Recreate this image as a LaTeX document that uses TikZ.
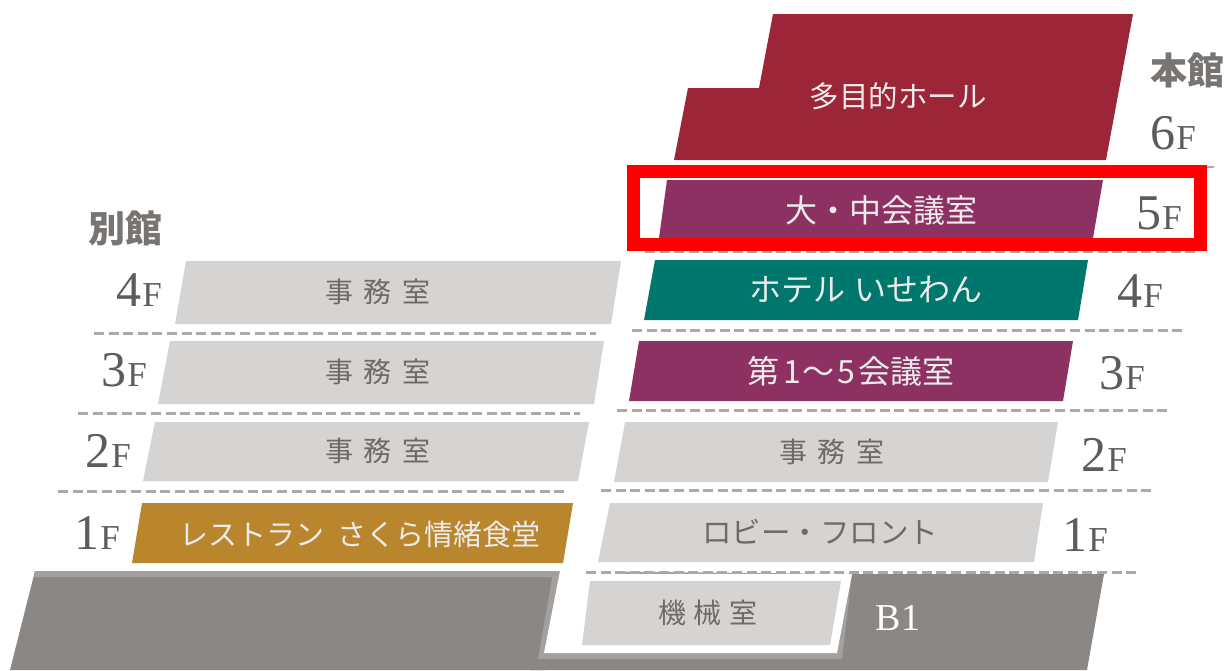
\documentclass[tikz,border=0pt]{standalone}
\usepackage{fontspec}
\setmainfont{Liberation Serif}
\newfontfamily\jp{Noto Sans CJK JP}
\definecolor{hallc}{HTML}{9C2638}
\definecolor{purp}{HTML}{8C3162}
\definecolor{tealc}{HTML}{00776C}
\definecolor{grayc}{HTML}{D5D4D2}
\definecolor{orng}{HTML}{B9862D}
\definecolor{darkc}{HTML}{8B8784}
\definecolor{edgec}{HTML}{A3A09D}
\definecolor{txtg}{HTML}{6E6A68}
\definecolor{flrc}{HTML}{5F5B59}
\definecolor{dashc}{HTML}{ABA8A5}
\newcommand{\flr}[1]{{\fontsize{50}{50}\selectfont #1}\kern1pt{\fontsize{35}{35}\selectfont F}}
\newcommand{\sep}[1]{\kern#1pt\relax}
\tikzset{
  x=1pt,y=-1pt,
  lbl/.style={inner sep=0pt,font=\jp\fontsize{29.5}{30}\selectfont},
  lightlbl/.style={lbl,text=white!92!black},
  graylbl/.style={lbl,text=txtg},
  floorlbl/.style={inner sep=0pt,text=flrc},
  bldg/.style={inner sep=0pt,text=flrc!85!white,font=\jp\bfseries\fontsize{37}{37}\selectfont},
  floordash/.style={draw=dashc,line width=3pt,dash pattern=on 10pt off 4.6pt},
}
\begin{document}
\begin{tikzpicture}
\useasboundingbox (0,0) rectangle (1231,670);
\fill[white] (0,0) rectangle (1231,670);
% dashes
\draw[floordash] (94,333) -- (596,333);
\draw[floordash] (78,413) -- (580,413);
\draw[floordash] (58,491) -- (568,491);
\draw[floordash] (645,251) -- (1196,251);
\draw[floordash] (632,330) -- (1183,330);
\draw[floordash] (617,410) -- (1168,410);
\draw[floordash] (601,490) -- (1152,490);
\draw[dashc,line width=1.5pt] (1207,167) -- (1214,167);
% basement
\fill[darkc] (35,571) -- (560,571) -- (545,670) -- (10,670) -- cycle;
\fill[darkc] (530,640) -- (800,640) -- (845,574) -- (1104,574) -- (1087,670) -- (530,670) -- cycle;
\fill[edgec] (35,571) -- (560,571) -- (559,577) -- (34,577) -- cycle;
\fill[edgec] (553,573) -- (559,571) -- (852,574) -- (842,659) -- (538,659) -- cycle;
\fill[white] (560,571) -- (620,571) -- (620,574) -- (852,574) -- (837,653) -- (544,653) -- cycle;
\draw[floordash] (586,572) -- (1137,572);
% main building rooms
\fill[hallc] (773,14) -- (1133,14) -- (1106,160) -- (674,160) -- (688,88) -- (759,88) -- cycle;
\fill[purp] (667,180) -- (1103,180) -- (1093,238) -- (659,238) -- cycle;
\fill[tealc] (655,260) -- (1088,260) -- (1078,320) -- (644,320) -- cycle;
\fill[purp] (639,341) -- (1073,341) -- (1063,401) -- (629,401) -- cycle;
\fill[grayc] (625,422) -- (1058,422) -- (1048,482) -- (614,482) -- cycle;
\fill[grayc] (610,503) -- (1043,503) -- (1034,562) -- (598,562) -- cycle;
\fill[grayc] (590,581) -- (841,581) -- (830,645) -- (582,645) -- cycle;
% annex rooms
\fill[grayc] (186,261) -- (621,261) -- (611,324) -- (175,324) -- cycle;
\fill[grayc] (170,341) -- (604,341) -- (594,404) -- (158,404) -- cycle;
\fill[grayc] (155,422) -- (589,422) -- (578,481) -- (143,481) -- cycle;
\fill[orng] (142,503) -- (573,503) -- (563,563) -- (132,563) -- cycle;
% red highlight
\draw[red,line width=13pt] (633,171) rectangle (1200,244);
% room labels
\node[lightlbl] (hall) at (898,96) {多目的ホール};
\node[lightlbl,font=\jp\fontsize{32}{32}\selectfont] (conf5) at (881,210) {大・中会議室};
\node[lightlbl,font=\jp\fontsize{32}{32}\selectfont] (hotel) at (866,290) {ホテル\sep{9}いせわん};
\node[lightlbl,font=\jp\fontsize{32}{32}\selectfont] (conf3) at (851,371) {第\sep{4}1\sep{2}〜\sep{2}5\sep{4}会議室};
\node[graylbl,font=\jp\fontsize{28}{28}\selectfont] (off2m) at (832,452) {事\sep{11}務\sep{11}室};
\node[graylbl] (lobby) at (820,532) {ロビー・フロント};
\node[graylbl,font=\jp\fontsize{28}{28}\selectfont] (mach) at (708,613) {機\sep{8}械\sep{8}室};
\node[graylbl,font=\jp\fontsize{28}{28}\selectfont] (off4a) at (378,292) {事\sep{11}務\sep{11}室};
\node[graylbl,font=\jp\fontsize{28}{28}\selectfont] (off3a) at (378,372) {事\sep{11}務\sep{11}室};
\node[graylbl,font=\jp\fontsize{28}{28}\selectfont] (off2a) at (378,451) {事\sep{11}務\sep{11}室};
\node[lightlbl,font=\jp\fontsize{29}{29}\selectfont] (rest) at (360,534) {レストラン\sep{14}さくら情緒食堂};
% floor labels
\node[inner sep=0pt,text=white,font=\fontsize{38}{38}\selectfont] (b1) at (898,618) {B1};
\node[bldg] (annex) at (125,228) {別館};
\node[bldg] (main) at (1187,70) {本館};
\node[floorlbl] (m6) at (1173,133) {\flr{6}};
\node[floorlbl] (m5) at (1159,213) {\flr{5}};
\node[floorlbl] (m4) at (1140,291) {\flr{4}};
\node[floorlbl] (m3) at (1122,373) {\flr{3}};
\node[floorlbl] (m2) at (1104,455) {\flr{2}};
\node[floorlbl] (m1) at (1085,535) {\flr{1}};
\node[floorlbl] (a4) at (139,290) {\flr{4}};
\node[floorlbl] (a3) at (124,370) {\flr{3}};
\node[floorlbl] (a2) at (108,451) {\flr{2}};
\node[floorlbl] (a1) at (97,533) {\flr{1}};
\end{tikzpicture}
\end{document}
